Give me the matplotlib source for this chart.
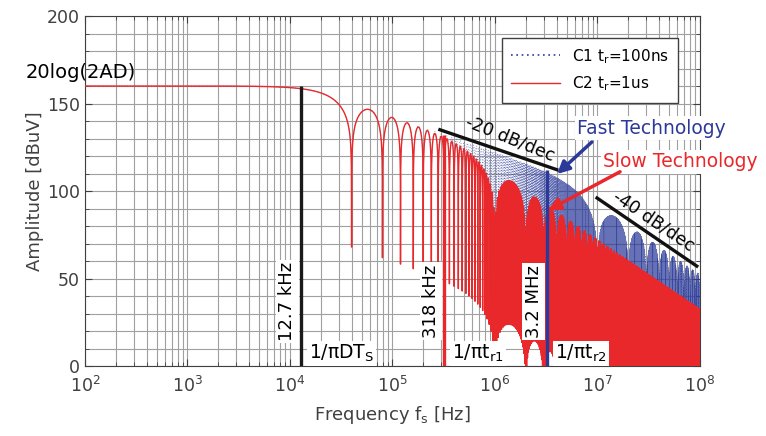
import numpy as np
import matplotlib
matplotlib.use("Agg")
import matplotlib.pyplot as plt
from matplotlib.ticker import MultipleLocator, FixedLocator, LogLocator, NullFormatter

plt.rcParams["agg.path.chunksize"] = 20000
plt.rcParams["font.family"] = "DejaVu Sans"
plt.rcParams["mathtext.default"] = "regular"

# Trapezoidal pulse spectrum parameters (as labelled on the chart)
dc_level_db = 160.0                      # 20log(2AD) in dBuV
pulse_corner_hz = 12.7e3                 # 1/(pi*D*Ts)
rise_times_s = [100e-9, 1e-6]            # C1, C2
series_names = ["C1 t$_r$=100ns", "C2 t$_r$=1us"]

# Corner frequencies marked with vertical lines
corner_freqs_hz = [12.7e3, 318e3, 3.2e6]
corner_values = ["12.7 kHz", "318 kHz", "3.2 MHz"]
corner_names = ["1/\u03c0DT$_S$", "1/\u03c0t$_{r1}$", "1/\u03c0t$_{r2}$"]

# Asymptote guide lines: start freq, stop freq, start level, slope
guide_start_hz = [290e3, 9.9e6]
guide_stop_hz = [4.0e6, 93e6]
guide_start_db = [135.0, 96.0]
guide_slopes = [-20, -40]
guide_labels = ["-20 dB/dec", "-40 dB/dec"]

x_decades = [1e2, 1e3, 1e4, 1e5, 1e6, 1e7, 1e8]

# Linear frequency sweep, offset 1 Hz from every sinc null of the pulse term
null_spacing = np.pi * pulse_corner_hz
step = null_spacing / 200
freq = 1.0 + step * np.arange(int(1e8 / step) + 2)
on_time = 1.0 / null_spacing
amp0 = 10 ** (dc_level_db / 20)

spectra = []
for tr in rise_times_s:
    a = amp0 * np.abs(np.sinc(on_time * freq)) * np.abs(np.sinc(tr * freq))
    spectra.append(20 * np.log10(np.maximum(a, 1e-6)))

RED = "#e8282b"
BLUE = "#2b3a9a"
AXC = "#404040"

fig = plt.figure(figsize=(7.66, 4.36), dpi=100)
ax = fig.add_axes([85 / 766, 1 - 366 / 436, 615 / 766, 350 / 436])

ax.plot(freq, spectra[0], color=BLUE, ls=(0, (1, 2.2)), lw=0.6, alpha=0.72,
        label=series_names[0], zorder=2)
ax.plot(freq, spectra[1], color=RED, ls="-", lw=1.0, label=series_names[1], zorder=3)

ax.set_xscale("log")
ax.set_xlim(x_decades[0], x_decades[-1])
ax.set_ylim(0, 200)
ax.yaxis.set_major_locator(MultipleLocator(50))
ax.yaxis.set_minor_locator(MultipleLocator(10))
ax.xaxis.set_major_locator(FixedLocator(x_decades))
ax.xaxis.set_minor_locator(LogLocator(base=10, subs=np.arange(2, 10), numticks=100))
ax.xaxis.set_minor_formatter(NullFormatter())
ax.grid(True, which="both", color="#a0a0a0", lw=0.8)
ax.set_axisbelow(True)
ax.tick_params(which="both", direction="in", top=True, right=True,
               colors=AXC, labelsize=12.5)
ax.tick_params(which="major", length=5)
ax.tick_params(which="minor", length=3)
ax.tick_params(axis="x", pad=7)
for s in ax.spines.values():
    s.set_color(AXC)

ax.set_xlabel("Frequency f$_s$ [Hz]", fontsize=13, color=AXC, labelpad=6)
ax.set_ylabel("Amplitude [dBuV]", fontsize=13, color=AXC, labelpad=2)

# Corner frequency markers
line_colors = ["#1a1a1a", RED, BLUE]
env_top = [dc_level_db,
           dc_level_db - 20 * np.log10(corner_freqs_hz[1] / pulse_corner_hz),
           dc_level_db - 20 * np.log10(corner_freqs_hz[2] / pulse_corner_hz)]
box = dict(facecolor="white", edgecolor="none", pad=1.5)
for fc, top, c, val, name in zip(corner_freqs_hz, env_top, line_colors,
                                 corner_values, corner_names):
    ax.plot([fc, fc], [0, top], color=c, lw=2.4, zorder=5, solid_capstyle="butt")
    ax.annotate(val, xy=(fc, 37), xytext=(-3, 0), textcoords="offset points",
                rotation=90, ha="right", va="center", fontsize=13,
                bbox=box, zorder=6)
    ax.annotate(name, xy=(fc, 7), xytext=(6, 0), textcoords="offset points",
                ha="left", va="center", fontsize=13.5, bbox=box, zorder=6)

# Slope guide lines
for f0, f1, l0, sl, lab, rot, pos in zip(guide_start_hz, guide_stop_hz,
                                         guide_start_db, guide_slopes,
                                         guide_labels, [-22, -34],
                                         [(1.4e6, 130), (3.56e7, 83)]):
    l1 = l0 + sl * np.log10(f1 / f0)
    ax.plot([f0, f1], [l0, l1], color="#111111", lw=2.4, zorder=5)
    ax.text(pos[0], pos[1], lab, rotation=rot, ha="center", va="center",
            fontsize=12.5, zorder=6)

ax.text(26.6, 167.5, "20log(2AD)", ha="left", va="center", fontsize=14,
        clip_on=False)

# Technology call-outs
ax.annotate("", xy=(4.03e6, 109.7), xytext=(8.8e6, 128),
            arrowprops=dict(arrowstyle="-|>", color=BLUE, lw=2.5,
                            mutation_scale=18, shrinkA=0, shrinkB=0), zorder=7)
ax.annotate("", xy=(3.29e6, 89), xytext=(16.6e6, 111),
            arrowprops=dict(arrowstyle="-|>", color=RED, lw=2.5,
                            mutation_scale=18, shrinkA=0, shrinkB=0), zorder=7)
ax.text(6.3e6, 136, "Fast Technology", color=BLUE, fontsize=13.5,
        ha="left", va="center", bbox=box, clip_on=False, zorder=6)
ax.text(11.3e6, 116.6, "Slow Technology", color=RED, fontsize=13.5,
        ha="left", va="center", bbox=box, clip_on=False, zorder=6)

leg = ax.legend(loc="upper right", bbox_to_anchor=(0.977, 0.96), fontsize=11,
                handlelength=3.2, frameon=True, fancybox=False, framealpha=1,
                edgecolor=AXC, borderpad=0.6, labelspacing=0.6)
leg.get_frame().set_linewidth(1.0)
leg.set_zorder(8)
leg.legend_handles[0].set_linewidth(1.2)
leg.legend_handles[0].set_alpha(1.0)

fig.savefig("out.png", dpi=100, facecolor="white")
